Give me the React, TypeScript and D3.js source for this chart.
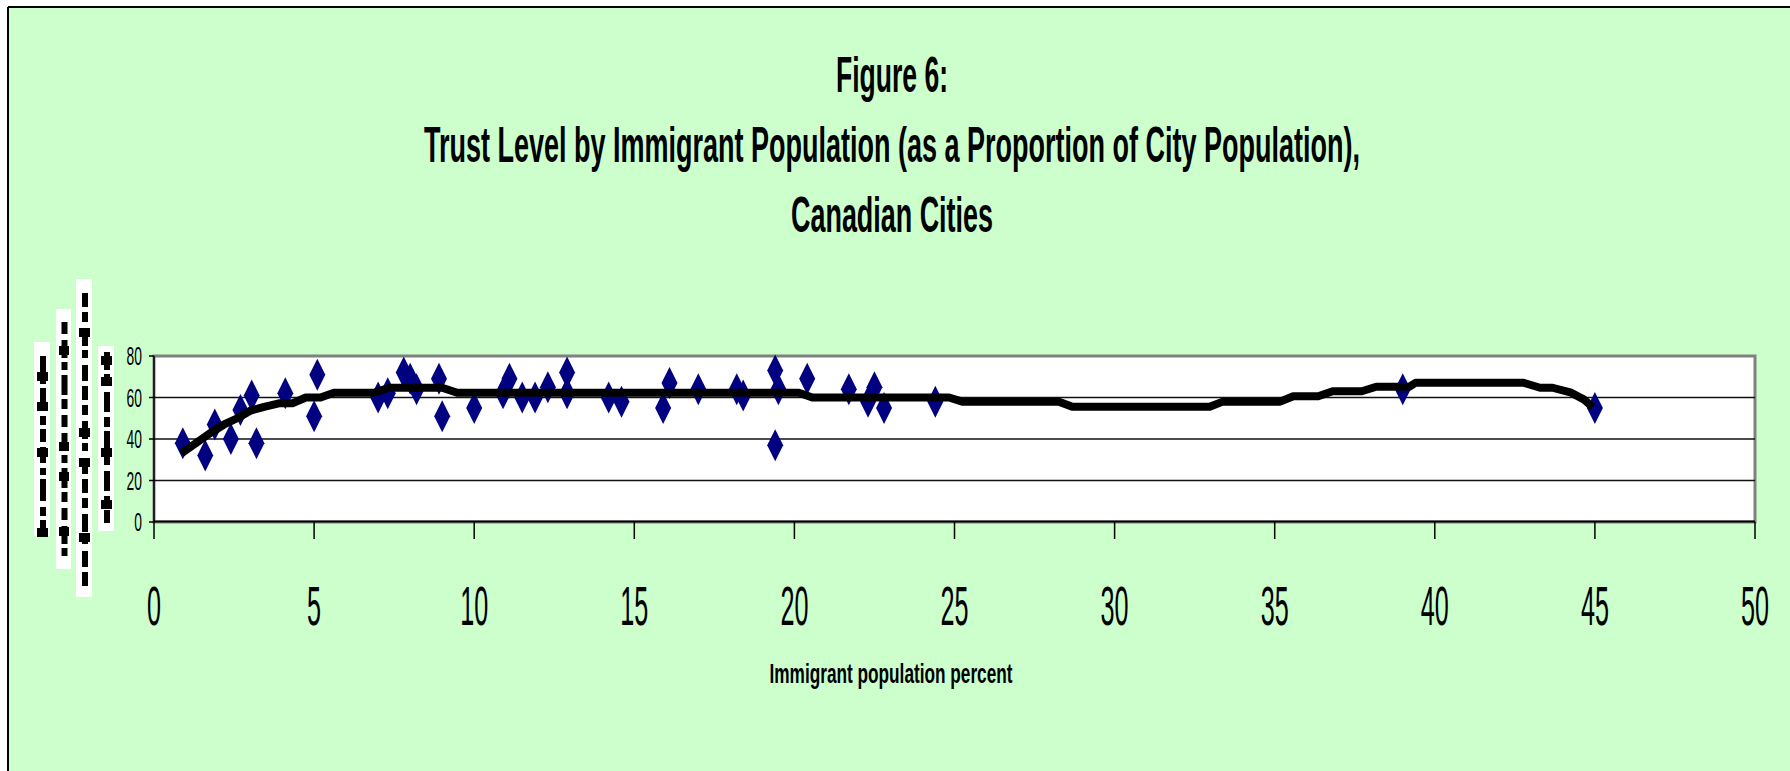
import React, { useLayoutEffect, useRef, useState } from "react";
import * as d3 from "d3";

// ---- data ----
const immigrantPct = [0.9, 1.6, 1.9, 2.4, 2.7, 3.05, 3.2, 4.1, 5.1, 5.0, 7.0, 7.3, 7.8, 8.0, 8.2, 8.9, 9.0, 10.0, 10.9, 11.1, 11.5, 11.9, 12.3, 12.9, 12.9, 14.2, 14.6, 16.1, 15.9, 17.0, 18.2, 18.4, 19.4, 19.5, 19.4, 20.4, 21.7, 22.3, 22.5, 22.8, 24.4, 39.0, 45.0];
const trustLevel = [38, 32, 47, 40, 54, 61, 38, 62, 71, 51, 60, 62, 72, 69, 64, 69, 51, 55, 62, 69, 60, 60, 65, 72, 62, 60, 58, 67, 55, 64, 64, 61, 73, 64, 37, 69, 64, 58, 65, 55, 58, 64, 55];

const smoothX = [0.85, 1.77, 2.19, 2.6, 3.02, 3.44, 3.9, 4.32, 4.74, 5.2, 5.62, 6.87, 7.34, 9.0, 9.47, 20.14, 20.56, 24.83, 25.24, 28.26, 28.68, 32.97, 33.38, 35.17, 35.58, 36.36, 36.81, 37.72, 38.17, 39.21, 39.4, 42.77, 43.29, 43.68, 44.26, 44.65, 44.93];
const smoothY = [33, 43, 47, 50, 53.7, 55.5, 57.2, 57.2, 60, 60, 62.3, 62.3, 64.7, 64.7, 62.3, 62.3, 60, 60, 58, 58, 55.5, 55.5, 58, 58, 60.6, 60.6, 63, 63, 65.2, 65.2, 67.1, 67.1, 64.7, 64.7, 62.3, 59.1, 55.3];

const xTicks = [0, 5, 10, 15, 20, 25, 30, 35, 40, 45, 50];
const yTicks = [0, 20, 40, 60, 80];

const titleLines = [
  "Figure 6:",
  "Trust Level by Immigrant Population (as a Proportion of City Population),",
  "Canadian Cities",
];
const xAxisTitle = "Immigrant population percent";

// ---- layout ----
const W = 1790;
const H = 771;
const plot = { left: 154, right: 1755, top: 356, bottom: 522 };
const FONT = "'Liberation Sans', Arial, sans-serif";
const BG = "#CCFFCC";
const NAVY = "#000080";

// garbled rotated axis-title fragments (decoration)
const strips = [
  { x: 34, y: 342, w: 16, h: 194, dy0: 14, dy1: 8, dash: "16 5 7 4 22 6 9 4 13 5", blocks: [16, 46, 92, 172] },
  { x: 56, y: 309, w: 15, h: 260, dy0: 13, dy1: 8, dash: "12 6 18 4 8 5 20 4 10 6", blocks: [24, 120, 150, 205] },
  { x: 76, y: 279, w: 16, h: 318, dy0: 14, dy1: 6, dash: "14 5 10 6 18 4 8 7 16 5", blocks: [35, 135, 165, 240] },
  { x: 98, y: 346, w: 16, h: 185, dy0: 6, dy1: 8, dash: "18 4 12 6 20 5 10 4", blocks: [4, 25, 96, 148] },
];

// condensed text: measured, then squeezed horizontally to the wanted width
function FitText(props: {
  x: number;
  y: number;
  width: number;
  anchor: "start" | "middle" | "end";
  size: number;
  bold?: boolean;
  children: string;
}) {
  const ref = useRef<SVGTextElement>(null);
  const [k, setK] = useState(0.5);
  useLayoutEffect(() => {
    if (ref.current) {
      const len = ref.current.getComputedTextLength();
      if (len > 0) setK(props.width / len);
    }
  }, [props.width, props.children, props.size]);
  return (
    <text
      ref={ref}
      x={0}
      y={0}
      transform={`translate(${props.x},${props.y}) scale(${k},1)`}
      textAnchor={props.anchor}
      fontFamily={FONT}
      fontWeight={props.bold ? "bold" : "normal"}
      fontSize={props.size}
      fill="#000"
    >
      {props.children}
    </text>
  );
}

export default function App() {
  const x = d3.scaleLinear().domain([0, 50]).range([plot.left, plot.right]);
  const y = d3.scaleLinear().domain([0, 80]).range([plot.bottom, plot.top]);

  const line = d3
    .line<number>()
    .x((_, i) => x(smoothX[i]))
    .y((d) => y(d));

  const diamond = "M0,-16 L8,0 L0,16 L-8,0 Z";

  return (
    <svg
      width={W}
      height={H}
      style={{ position: "absolute", left: 0, top: 0, display: "block", overflow: "hidden" }}
    >
      {/* chart area background, border only on left & top (rest lies outside the view) */}
      <rect x={8} y={7} width={W} height={H} fill={BG} />
      <line x1={8} x2={W} y1={7} y2={7} stroke="#000" strokeWidth={2} />
      <line x1={8} x2={8} y1={7} y2={H} stroke="#000" strokeWidth={2} />

      {/* title */}
      {titleLines.map((t, i) => (
        <FitText key={i} x={892} y={92 + i * 70} width={[112, 936, 202][i]} anchor="middle" size={50} bold>
          {t}
        </FitText>
      ))}

      {/* garbled axis title fragments */}
      {strips.map((s, i) => (
        <g key={i}>
          <rect x={s.x} y={s.y} width={s.w} height={s.h} fill="#fff" />
          <line
            x1={s.x + s.w / 2 + 1}
            x2={s.x + s.w / 2 + 1}
            y1={s.y + s.dy0}
            y2={s.y + s.h - s.dy1}
            stroke="#000"
            strokeWidth={6}
            strokeDasharray={s.dash}
          />
          {s.blocks.map((b, j) => (
            <rect key={j} x={s.x + 3} y={s.y + s.dy0 + b} width={s.w - 5} height={9} fill="#000" />
          ))}
        </g>
      ))}

      {/* plot area */}
      <rect
        x={plot.left}
        y={plot.top}
        width={plot.right - plot.left}
        height={plot.bottom - plot.top}
        fill="#fff"
        stroke="#808080"
        strokeWidth={3}
      />
      {yTicks
        .filter((t) => t > 0 && t < 80)
        .map((t) => (
          <line key={t} x1={plot.left} x2={plot.right} y1={y(t)} y2={y(t)} stroke="#111" strokeWidth={1.3} />
        ))}

      {/* axes */}
      <line x1={plot.left} x2={plot.right} y1={plot.bottom - 0.5} y2={plot.bottom - 0.5} stroke="#000" strokeWidth={2} />
      <line x1={plot.left} x2={plot.left} y1={plot.top} y2={plot.bottom} stroke="#000" strokeWidth={1.5} />
      {xTicks.map((t) => (
        <g key={t}>
          <line x1={x(t)} x2={x(t)} y1={plot.bottom} y2={plot.bottom + 17} stroke="#000" strokeWidth={1.5} />
          <FitText x={x(t)} y={625} width={String(t).length * 14} anchor="middle" size={56}>
            {String(t)}
          </FitText>
        </g>
      ))}
      {yTicks.map((t) => (
        <g key={t}>
          <line x1={plot.left - 5} x2={plot.left} y1={y(t)} y2={y(t)} stroke="#000" strokeWidth={1.5} />
          <FitText x={142} y={y(t) + 9} width={String(t).length * 7.7} anchor="end" size={25}>
            {String(t)}
          </FitText>
        </g>
      ))}

      {/* scatter */}
      {immigrantPct.map((v, i) => (
        <path key={i} d={diamond} transform={`translate(${x(v)},${y(trustLevel[i])})`} fill={NAVY} />
      ))}

      {/* smoothed line */}
      <path d={line(smoothY) || ""} fill="none" stroke="#000" strokeWidth={8} strokeLinejoin="round" />

      {/* x axis title */}
      <FitText x={891} y={683} width={243} anchor="middle" size={28} bold>
        {xAxisTitle}
      </FitText>
    </svg>
  );
}
